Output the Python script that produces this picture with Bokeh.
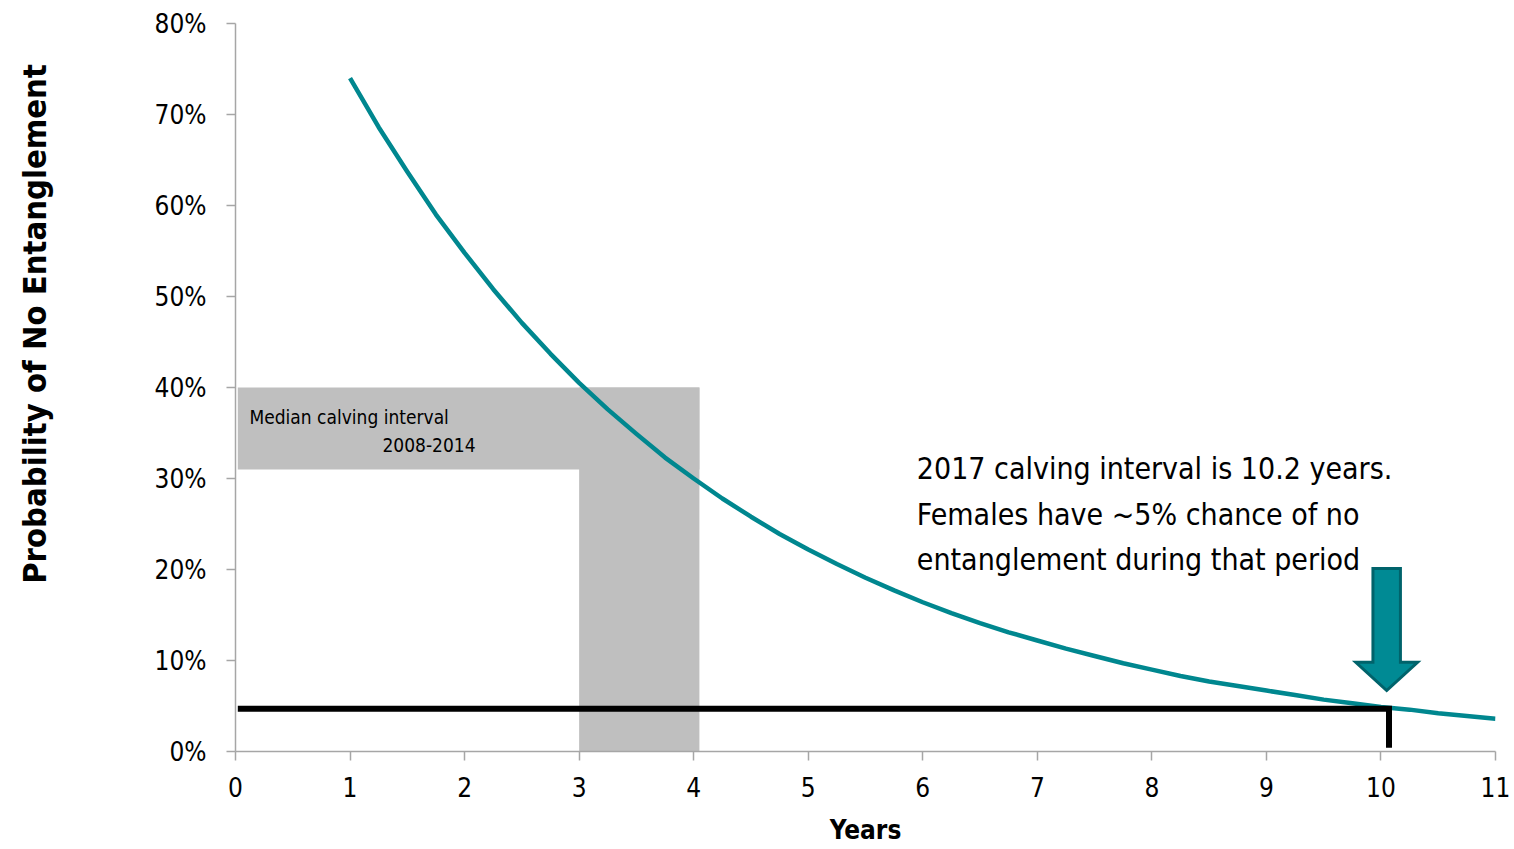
import numpy as np
from bokeh.plotting import figure
from bokeh.layouts import row
from bokeh.models import Label, NumeralTickFormatter, FixedTicker, Range1d
from bokeh.embed import file_html
from bokeh.resources import INLINE

# Data
years = [1.00, 1.25, 1.50, 1.75, 2.00, 2.25, 2.50, 2.75, 3.00, 3.25, 3.50, 3.75, 4.00, 4.25,
         4.50, 4.75, 5.00, 5.25, 5.50, 5.75, 6.00, 6.25, 6.50, 6.75, 7.00, 7.25, 7.50, 7.75,
         8.00, 8.25, 8.50, 8.75, 9.00, 9.25, 9.50, 9.75, 10.00, 10.25, 10.50, 10.75, 11.00]
prob_no_entanglement = [0.740, 0.686, 0.637, 0.590, 0.548, 0.508, 0.471, 0.437, 0.405, 0.376,
                        0.349, 0.323, 0.300, 0.278, 0.258, 0.239, 0.222, 0.206, 0.191, 0.177,
                        0.164, 0.152, 0.141, 0.131, 0.122, 0.113, 0.105, 0.097, 0.090, 0.083,
                        0.077, 0.072, 0.067, 0.062, 0.057, 0.053, 0.049, 0.046, 0.042, 0.039, 0.036]
x_ticks = list(range(0, 12))
y_ticks = [0, 0.1, 0.2, 0.3, 0.4, 0.5, 0.6, 0.7, 0.8]

median_interval_low = 3.0
median_interval_high = 4.05
calving_2017 = 10.07
prob_2017 = 0.047

FONT = "DejaVu Sans Condensed"
TEAL = "#00878F"
H = 848
LEFT_W = 70

# Narrow strip holding the vertical y-axis title
t = figure(width=LEFT_W, height=H, x_range=Range1d(0, LEFT_W), y_range=Range1d(H, 0),
           output_backend="svg", toolbar_location=None,
           min_border_left=0, min_border_right=0, min_border_top=0, min_border_bottom=0,
           x_axis_location=None, y_axis_location=None)
t.outline_line_color = None
t.grid.visible = False
t.add_layout(Label(x=34, y=350, text="Probability of No Entanglement", text_font=FONT,
                   text_font_size="32.5px", text_font_style="bold", text_color="black",
                   angle=np.pi / 2, text_baseline="middle", text_align="center"))

p = figure(width=1510 - LEFT_W, height=H, x_range=(0, 11), y_range=(0, 0.8),
           output_backend="svg", toolbar_location=None,
           min_border_left=235 - LEFT_W, min_border_right=15, min_border_top=23,
           min_border_bottom=H - 751)
p.outline_line_color = None
p.xgrid.visible = False
p.ygrid.visible = False

for ax in (p.xaxis[0], p.yaxis[0]):
    ax.axis_line_color = "#A6A6A6"
    ax.axis_line_width = 1.5
    ax.major_tick_line_color = "#A6A6A6"
    ax.major_tick_line_width = 1.5
    ax.major_tick_out = 9
    ax.major_tick_in = 0
    ax.minor_tick_line_color = None
    ax.major_label_text_font = FONT
    ax.major_label_text_font_size = "26px"
    ax.major_label_text_color = "black"

p.xaxis.ticker = FixedTicker(ticks=x_ticks)
p.yaxis.ticker = FixedTicker(ticks=y_ticks)
p.yaxis.formatter = NumeralTickFormatter(format="0%")
p.yaxis.major_label_standoff = 20
p.xaxis.major_label_standoff = 16

p.xaxis.axis_label = "Years"
p.xaxis.axis_label_text_font = FONT
p.xaxis.axis_label_text_font_size = "26px"
p.xaxis.axis_label_text_font_style = "bold"
p.xaxis.axis_label_text_color = "black"
p.xaxis.axis_label_standoff = 15

# Gray median calving interval shape
p.quad(left=[0.02], right=[median_interval_high], bottom=[0.31], top=[0.40],
       fill_color="#BFBFBF", line_color=None)
p.quad(left=[median_interval_low], right=[median_interval_high], bottom=[0.0], top=[0.40],
       fill_color="#BFBFBF", line_color=None)

# Curve
p.line(years, prob_no_entanglement, line_color=TEAL, line_width=4.5, line_join="round")

# Black marker line
p.line([0.02, calving_2017, calving_2017], [prob_2017, prob_2017, 0.004],
       line_color="black", line_width=6, line_join="miter")

# Arrow
ax_c = calving_2017 - 0.02
arrow_x = [ax_c - 0.12, ax_c + 0.12, ax_c + 0.12, ax_c + 0.27, ax_c, ax_c - 0.27, ax_c - 0.12]
arrow_y = [0.201, 0.201, 0.098, 0.098, 0.067, 0.098, 0.098]
p.patch(arrow_x, arrow_y, fill_color="#008A94", line_color="#00636B", line_width=3, line_join="miter")

# Labels
p.add_layout(Label(x=0.122, y=0.368, text="Median calving interval", text_font=FONT,
                   text_font_size="19px", text_color="black",
                   text_baseline="middle", text_align="left"))
p.add_layout(Label(x=2.096, y=0.337, text="2008-2014", text_font=FONT,
                   text_font_size="19px", text_color="black",
                   text_baseline="middle", text_align="right"))

for txt, yy in [("2017 calving interval is 10.2 years.", 0.311),
                ("Females have ~5% chance of no", 0.260),
                ("entanglement during that period", 0.211)]:
    p.add_layout(Label(x=5.948, y=yy, text=txt, text_font=FONT, text_font_size="30px",
                       text_color="black", text_baseline="middle", text_align="left"))

layout = row(t, p, spacing=0)
open("out.html", "w").write(file_html(layout, INLINE))
